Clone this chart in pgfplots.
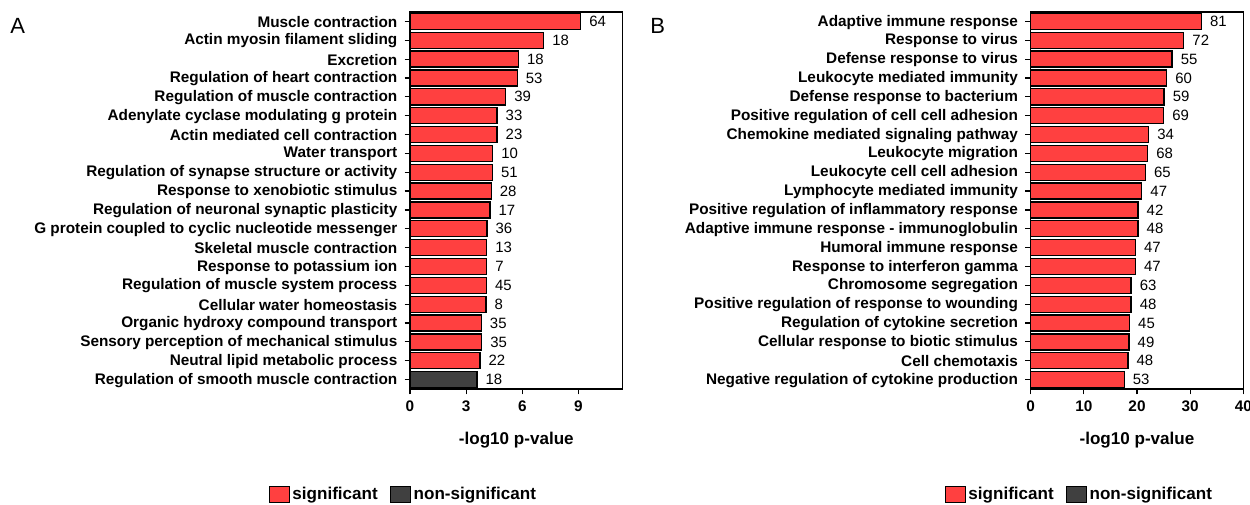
\documentclass[border=0pt]{standalone}
\usepackage{pgfplots}
\pgfplotsset{compat=1.18}
\usepackage{pgfplotstable}
\usepackage{fontspec}
\setmainfont{Liberation Sans}
\definecolor{sigred}{RGB}{255,64,64}
\definecolor{nsgray}{RGB}{64,64,64}

\pgfplotstableread{
y val n
0 9.12 64
1 7.14 18
2 5.79 18
3 5.73 53
4 5.11 39
5 4.65 33
6 4.65 23
7 4.42 10
8 4.40 51
9 4.34 28
10 4.27 17
11 4.11 36
12 4.10 13
13 4.10 7
14 4.08 45
15 4.06 8
16 3.81 35
17 3.83 35
18 3.74 22
}\dataA
\pgfplotstableread{
y val n
19 3.58 18
}\dataAns
\pgfplotstableread{
y val n
0 32.1 81
1 28.8 72
2 26.6 55
3 25.6 60
4 25.1 59
5 25.0 69
6 22.2 34
7 22.0 68
8 21.6 65
9 20.9 47
10 20.2 42
11 20.2 48
12 19.7 47
13 19.7 47
14 18.9 63
15 18.9 48
16 18.6 45
17 18.5 49
18 18.3 48
19 17.6 53
}\dataB

\pgfplotsset{
  goplot/.style={
    scale only axis, width=159.5pt, height=282.75pt,
    xbar, bar width=0.85,
    y dir=reverse, ymin=-0.5, ymax=19.5, ytick={0,...,19},
    xmin=0,
    axis line style={line width=1.1pt},
    tick align=outside, tick pos=left, major tick length=4pt,
    tick style={line width=0.9pt, black},
    ticklabel style={font=\fontsize{11.5}{13}\selectfont\bfseries},
    yticklabel style={xshift=-2pt, yshift=-0.5pt},
    xticklabel style={yshift=-1.5pt},
    /pgf/number format/assume math mode=true,
    xlabel={-log10 p-value},
    xlabel style={font=\fontsize{12.8}{14}\selectfont\bfseries, yshift=-8.5pt},
    point meta=explicit symbolic,
    nodes near coords,
    nodes near coords style={anchor=west, font=\fontsize{11.2}{13}\selectfont, inner sep=0pt, xshift=6pt},
    clip=false,
    legend columns=2,
    legend style={draw=none, fill=none, anchor=center,
      font=\fontsize{12.8}{14}\selectfont\bfseries,
      /tikz/every even column/.append style={column sep=7pt},
      nodes={inner sep=2pt}},
  },
  sqlegend/.style={legend image code/.code={\draw[##1, line width=0.9pt] (0pt,-6pt) rectangle (15pt,6pt);}},
  sigbar/.style={fill=sigred, draw=black, line width=1pt, bar shift=0pt, sqlegend},
  nsbar/.style={fill=nsgray, draw=black, line width=1pt, bar shift=0pt, sqlegend},
}

\begin{document}
\begin{tikzpicture}[x=0.75pt, y=0.75pt]
\begin{axis}[goplot, at={(307.5pt,86.25pt)}, anchor=south west,
  xmax=11.36, xtick={0,3,6,9},
  legend style={at={(-0.03,-0.28)}},
  yticklabels={
    Muscle contraction,
    Actin myosin filament sliding,
    Excretion,
    Regulation of heart contraction,
    Regulation of muscle contraction,
    Adenylate cyclase modulating g protein,
    Actin mediated cell contraction,
    Water transport,
    Regulation of synapse structure or activity,
    Response to xenobiotic stimulus,
    Regulation of neuronal synaptic plasticity,
    G protein coupled to cyclic nucleotide messenger,
    Skeletal muscle contraction,
    Response to potassium ion,
    Regulation of muscle system process,
    Cellular water homeostasis,
    Organic hydroxy compound transport,
    Sensory perception of mechanical stimulus,
    Neutral lipid metabolic process,
    Regulation of smooth muscle contraction}]
\addplot[sigbar] table[x=val, y=y, meta=n] {\dataA};
\addlegendentry{significant}
\addplot[nsbar] table[x=val, y=y, meta=n] {\dataAns};
\addlegendentry{non-significant}
\end{axis}

\begin{axis}[goplot, at={(773.0pt,86.25pt)}, anchor=south west,
  xmax=40, xtick={0,10,20,30,40},
  legend style={at={(0.23,-0.28)}},
  yticklabels={
    Adaptive immune response,
    Response to virus,
    Defense response to virus,
    Leukocyte mediated immunity,
    Defense response to bacterium,
    Positive regulation of cell cell adhesion,
    Chemokine mediated signaling pathway,
    Leukocyte migration,
    Leukocyte cell cell adhesion,
    Lymphocyte mediated immunity,
    Positive regulation of inflammatory response,
    Adaptive immune response - immunoglobulin,
    Humoral immune response,
    Response to interferon gamma,
    Chromosome segregation,
    Positive regulation of response to wounding,
    Regulation of cytokine secretion,
    Cellular response to biotic stimulus,
    Cell chemotaxis,
    Negative regulation of cytokine production}]
\addplot[sigbar] table[x=val, y=y, meta=n] {\dataB};
\addlegendentry{significant}
\addlegendimage{nsbar}
\addlegendentry{non-significant}
\end{axis}

\node[anchor=base west, font=\fontsize{16.5}{18}\selectfont, inner sep=0pt] at (10,470) {A};
\node[anchor=base west, font=\fontsize{16.5}{18}\selectfont, inner sep=0pt] at (650,470) {B};

\pgfresetboundingbox
\path[use as bounding box] (0,0) rectangle (1250,504);
\end{tikzpicture}
\end{document}
